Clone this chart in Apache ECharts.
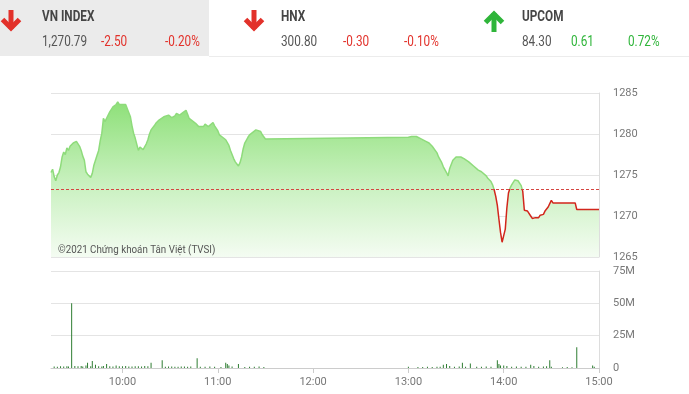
<!DOCTYPE html>
<html>
<head>
<meta charset="utf-8">
<script src="https://cdn.jsdelivr.net/npm/echarts@6/dist/echarts.min.js"></script>
<style>
html,body{margin:0;padding:0;background:#fff;}
#chart{width:689px;height:394px;}
</style>
</head>
<body>
<div id="chart"></div>
<script>
// ---- data ----
const refClose = 1273.29;
const priceTimes = ["09:15","09:16","09:17","09:18","09:19","09:20","09:21","09:22","09:23","09:24","09:25","09:26","09:27","09:28","09:29","09:30","09:31","09:32","09:33","09:34","09:35","09:36","09:37","09:38","09:39","09:40","09:41","09:42","09:44","09:45","09:46","09:47","09:48","09:49","09:50","09:51","09:52","09:53","09:54","09:55","09:56","09:57","09:58","09:59","10:00","10:01","10:02","10:03","10:04","10:05","10:06","10:07","10:08","10:09","10:10","10:11","10:12","10:13","10:14","10:15","10:16","10:17","10:18","10:20","10:21","10:23","10:24","10:26","10:29","10:31","10:33","10:34","10:36","10:37","10:38","10:40","10:41","10:42","10:44","10:46","10:48","10:49","10:51","10:52","10:54","10:55","10:57","10:58","10:59","11:00","11:01","11:03","11:05","11:07","11:08","11:10","11:11","11:13","11:14","11:15","11:16","11:17","11:19","11:20","11:22","11:24","11:25","11:27","11:28","11:30","13:00","13:02","13:03","13:05","13:06","13:08","13:09","13:11","13:13","13:15","13:16","13:18","13:19","13:21","13:22","13:24","13:25","13:26","13:28","13:30","13:31","13:33","13:35","13:36","13:38","13:39","13:41","13:42","13:44","13:46","13:47","13:49","13:50","13:52","13:53","13:54","13:55","13:56","13:57","13:58","13:59","14:00","14:01","14:02","14:03","14:04","14:05","14:06","14:07","14:08","14:09","14:10","14:11","14:12","14:13","14:14","14:15","14:16","14:17","14:18","14:19","14:20","14:21","14:22","14:23","14:24","14:25","14:26","14:27","14:28","14:29","14:30","14:31","14:45","14:46","15:00"];
const priceValues = [1275.3,1275.7,1274.8,1274.3,1275.0,1275.3,1276.0,1277.2,1277.8,1277.5,1278.3,1278.0,1278.5,1278.3,1278.9,1278.7,1279.1,1278.9,1278.5,1278.0,1277.3,1276.8,1275.4,1275.1,1274.9,1274.7,1275.2,1276.2,1277.4,1278.0,1279.2,1280.1,1281.9,1281.5,1281.7,1282.3,1282.7,1283.0,1283.3,1283.5,1283.6,1283.9,1283.6,1283.8,1283.6,1283.4,1283.6,1283.4,1282.6,1282.1,1281.0,1280.1,1279.5,1279.3,1278.0,1278.4,1278.5,1278.1,1278.3,1278.8,1279.3,1280.0,1280.5,1281.0,1281.3,1281.7,1281.9,1282.1,1282.3,1282.0,1282.2,1282.5,1282.3,1282.4,1282.6,1282.9,1282.4,1281.9,1281.6,1281.3,1280.9,1281.0,1280.9,1281.2,1280.9,1281.0,1281.4,1281.0,1280.9,1280.4,1279.9,1279.6,1279.3,1278.6,1278.0,1277.0,1276.6,1276.1,1276.5,1277.2,1278.2,1278.9,1279.6,1279.9,1280.2,1280.5,1280.3,1280.3,1279.9,1279.4,1279.6,1279.7,1279.8,1279.7,1279.6,1279.4,1279.3,1279.1,1278.9,1278.5,1278.3,1277.7,1277.2,1276.5,1276.0,1275.3,1274.9,1275.8,1276.8,1277.2,1277.3,1277.2,1277.0,1276.9,1276.6,1276.5,1276.1,1276.0,1275.6,1275.4,1275.2,1274.9,1274.6,1274.2,1273.8,1273.2,1272.4,1271.3,1269.6,1268.0,1266.8,1267.6,1268.4,1271.0,1272.8,1273.4,1273.8,1274.1,1274.4,1274.4,1274.3,1274.1,1273.7,1273.0,1270.7,1270.6,1270.6,1270.4,1270.0,1269.7,1269.6,1269.8,1269.9,1269.8,1270.1,1270.3,1270.2,1270.6,1270.8,1271.1,1271.5,1271.9,1271.6,1271.6,1270.79,1270.79];

const volTimes = ["09:17","09:19","09:21","09:23","09:25","09:26","09:28","09:30","09:32","09:34","09:35","09:37","09:38","09:40","09:41","09:43","09:45","09:47","09:48","09:50","09:52","09:54","09:56","09:58","10:00","10:02","10:04","10:06","10:08","10:10","10:12","10:14","10:16","10:18","10:25","10:27","10:29","10:31","10:33","10:35","10:37","10:39","10:41","10:43","10:47","10:49","10:52","10:55","10:58","11:02","11:05","11:06","11:07","11:09","11:13","11:17","11:20","11:23","11:26","11:29","13:00","13:06","13:09","13:12","13:15","13:18","13:20","13:22","13:24","13:26","13:29","13:32","13:34","13:36","13:39","13:43","13:46","13:49","13:52","13:56","13:57","13:58","14:00","14:02","14:05","14:08","14:11","14:14","14:17","14:19","14:22","14:25","14:27","14:29","14:30","14:37","14:40","14:43","14:46","14:56","14:57"];
const volValues = [1.2,1.0,1.3,1.1,1.4,1.2,50,1.5,1.3,1.6,1.2,2.0,4.0,1.3,5.5,2.5,1.4,1.2,1.5,3.0,1.3,1.2,2.0,1.4,1.3,1.5,1.1,1.2,1.4,1.3,1.2,1.5,1.3,4.0,6.0,1.0,1.2,1.1,0.9,1.0,1.2,1.1,1.0,1.2,7.5,1.0,0.9,1.1,1.0,0.8,4.0,3.0,2.0,1.2,3.0,0.8,1.0,0.9,1.1,0.8,1.0,0.8,0.7,0.9,0.8,1.0,0.9,2.5,3.0,1.5,1.0,1.2,4.0,1.0,3.5,1.0,0.9,1.1,1.0,6.0,3.0,2.0,2.0,1.5,1.0,1.1,0.9,1.0,2.5,1.5,1.0,1.2,1.4,6.0,1.0,0.6,0.7,0.6,16,2.0,1.0];

const xTickLabels = ["10:00","11:00","12:00","13:00","14:00","15:00"];

const headerNames = ["VN INDEX","HNX","UPCOM"];
const headerValues = ["1,270.79","300.80","84.30"];
const headerChanges = ["-2.50","-0.30","0.61"];
const headerPcts = ["-0.20%","-0.10%","0.72%"];
const headerUp = [false,false,true];

// ---- helpers ----
function toMin(t){const p=t.split(':');return (+p[0])*60+(+p[1]);}
function fmtMin(v){const h=Math.floor(v/60),m=v%60;return (h<10?'0':'')+h+':'+(m<10?'0':'')+m;}
const priceData = priceTimes.map((t,i)=>[toMin(t),priceValues[i]]);
const volData = volTimes.map((t,i)=>[toMin(t),volValues[i]*1e6]);
const xTickVals = xTickLabels.map(toMin);

const chart = echarts.init(document.getElementById('chart'));
const FONT = "'Roboto',sans-serif";
const RED = '#e2312a', GREEN = '#2fb53a';

// header graphics
const hdrX = [{arrow:11, text:42, chg:101, pct:165},{arrow:254, text:281, chg:343, pct:404},{arrow:494, text:522, chg:571, pct:628}];
const graphics = [
  {type:'rect', shape:{x:0,y:0,width:209,height:56}, style:{fill:'#ebebeb'}, silent:true},
  {type:'line', shape:{x1:209,y1:56.5,x2:689,y2:56.5}, style:{stroke:'#ececec',lineWidth:1}, silent:true}
];
headerNames.forEach((name,i)=>{
  const p = hdrX[i];
  const up = headerUp[i];
  const col = up ? GREEN : RED;
  const cx = p.arrow;
  if(!up){
    graphics.push({type:'polyline', shape:{points:[[cx,10],[cx,29]]}, style:{stroke:col,lineWidth:5,fill:null}, silent:true});
    graphics.push({type:'polyline', shape:{points:[[cx-8.5,19.5],[cx,28],[cx+8.5,19.5]]}, style:{stroke:col,lineWidth:5,fill:null,lineJoin:'miter'}, silent:true});
  } else {
    graphics.push({type:'polyline', shape:{points:[[cx,13],[cx,32]]}, style:{stroke:col,lineWidth:5,fill:null}, silent:true});
    graphics.push({type:'polyline', shape:{points:[[cx-8.5,22.5],[cx,14],[cx+8.5,22.5]]}, style:{stroke:col,lineWidth:5,fill:null,lineJoin:'miter'}, silent:true});
  }
  const txt = (x,y,s,fill,font)=>({type:'text', x:x, y:y, scaleX:0.84, style:{x:0,y:0,text:s, fill:fill, font:font, textVerticalAlign:'middle'}, silent:true});
  graphics.push(txt(p.text,17,name,'#454545',"bold 14px "+FONT));
  graphics.push(txt(p.text,42,headerValues[i],'#555',"14px "+FONT));
  graphics.push(txt(p.chg,42,headerChanges[i],col,"14px "+FONT));
  graphics.push(txt(p.pct,42,headerPcts[i],col,"14px "+FONT));
});
graphics.push({type:'text', x:58, y:250, scaleX:0.85, style:{x:0,y:0,text:'©2021 Chứng khoán Tân Việt (TVSI)', fill:'#555', font:"11.5px "+FONT, textVerticalAlign:'middle'}, silent:true, z:10});

const axisLabelStyle = {color:'#777', fontSize:11, fontFamily:FONT};

chart.setOption({
  animation:false,
  graphic: graphics,
  grid:[
    {left:51, right:90, top:93, height:164},
    {left:51, right:90, top:271, height:97}
  ],
  xAxis:[
    {type:'value', gridIndex:0, min:555, max:900, axisLine:{show:false}, axisTick:{show:false}, axisLabel:{show:false}, splitLine:{show:false}},
    {type:'value', gridIndex:1, min:555, max:900,
      axisLine:{show:true, lineStyle:{color:'#ccc'}},
      axisTick:{show:true, customValues:xTickVals, length:5, lineStyle:{color:'#ccc'}},
      axisLabel:Object.assign({customValues:xTickVals, formatter:v=>fmtMin(v), margin:9}, axisLabelStyle),
      splitLine:{show:false}}
  ],
  yAxis:[
    {type:'value', gridIndex:0, position:'right', min:1265, max:1285, interval:5,
      axisLine:{show:true, lineStyle:{color:'#ddd'}}, axisTick:{show:false},
      axisLabel:Object.assign({margin:14, formatter:v=>String(v)}, axisLabelStyle),
      splitLine:{lineStyle:{color:'#e4e4e4'}}},
    {type:'value', gridIndex:1, position:'right', min:0, max:75e6, interval:25e6,
      axisLine:{show:true, lineStyle:{color:'#ddd'}}, axisTick:{show:false},
      axisLabel:Object.assign({margin:14, formatter:v=> v===0?'0':(v/1e6)+'M'}, axisLabelStyle),
      splitLine:{lineStyle:{color:'#e4e4e4'}}}
  ],
  visualMap:{
    show:false, type:'piecewise', seriesIndex:0, dimension:1,
    pieces:[{gt:1200, lte:refClose, color:'#d2261c'},{gt:refClose, lte:1400, color:'#8edb7b'}]
  },
  series:[
    {type:'line', xAxisIndex:0, yAxisIndex:0, data:priceData, showSymbol:false, symbol:'none',
      lineStyle:{width:1.5},
      areaStyle:{opacity:1, color:new echarts.graphic.LinearGradient(0,0,0,1,[
        {offset:0, color:'#8ee079'},{offset:0.5, color:'#c6f0bc'},{offset:1, color:'#f4fcf2'}])},
      z:3
    },
    {type:'line', xAxisIndex:0, yAxisIndex:0, data:[], showSymbol:false,
      markLine:{silent:true, symbol:'none', label:{show:false},
        lineStyle:{color:'#d64541', type:[3,2], width:1, opacity:1},
        data:[{yAxis:refClose}]},
      z:4
    },
    {type:'bar', xAxisIndex:1, yAxisIndex:1, data:volData, barWidth:1, itemStyle:{color:'#2e7d32'}}
  ]
});
</script>
</body>
</html>
